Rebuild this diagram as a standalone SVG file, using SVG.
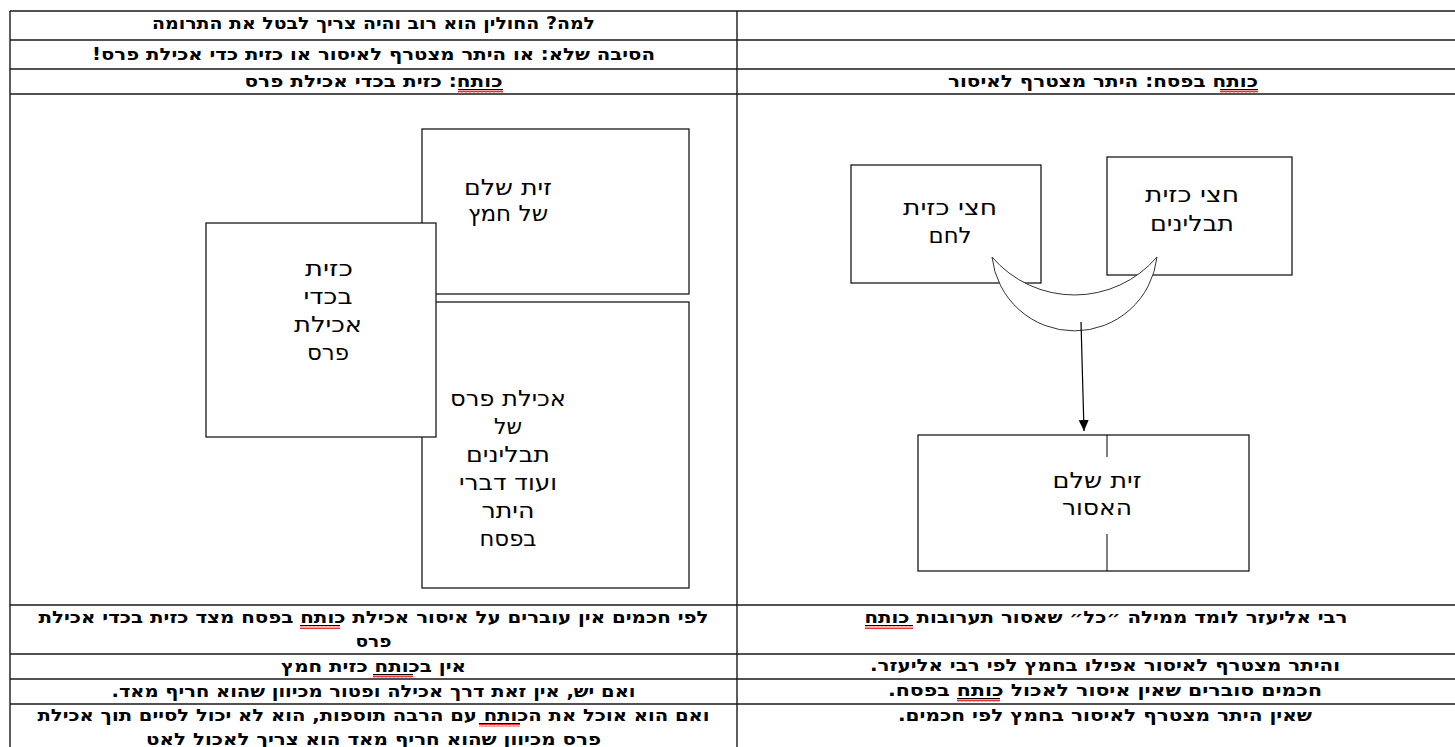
<svg xmlns="http://www.w3.org/2000/svg" width="1455" height="747" viewBox="0 0 1455 747">
<style>
.grid{stroke:#1a1a1a;stroke-width:1.4;fill:none}
.box{fill:#fff;stroke:#1a1a1a;stroke-width:1.3}
.hd{font-family:"DejaVu Sans","Liberation Sans",sans-serif;font-size:17px;font-weight:bold;fill:#000;text-anchor:middle}
.bx{font-family:"DejaVu Sans","Liberation Sans",sans-serif;font-size:22px;fill:#000;text-anchor:middle}
.ul{stroke:#000;stroke-width:1;fill:none}
</style>
<defs>
<pattern id="sq" x="0" y="0" width="4" height="3" patternUnits="userSpaceOnUse">
<path d="M0,2.5 L1,0.5 L2,2.5 L3,0.5 L4,2.5" fill="none" stroke="#e01b1b" stroke-width="0.9"/>
</pattern>
<marker id="ah" markerWidth="12" markerHeight="12" refX="11" refY="5" orient="auto" markerUnits="userSpaceOnUse">
<path d="M0,0 L11,5 L0,10 Z" fill="#000"/>
</marker>
</defs>
<rect width="1455" height="747" fill="#fff"/>
<g id="table">
<path class="grid" d="M10,11H1455M10,40H1455M10,69H1455M10,94H1455M10,605H1455M10,654H1455M10,679H1455M10,704H1455M10,11V747M737,11V747"/>
</g>
<g id="header-texts">
<text class="hd" x="373.5" y="29" direction="rtl" textLength="443" lengthAdjust="spacingAndGlyphs">למה? החולין הוא רוב והיה צריך לבטל את התרומה</text>
<text class="hd" x="373.5" y="60" direction="rtl" textLength="563" lengthAdjust="spacingAndGlyphs">הסיבה שלא: או היתר מצטרף לאיסור או כזית כדי אכילת פרס!</text>
<text class="hd" x="373.5" y="87" direction="rtl" textLength="258" lengthAdjust="spacingAndGlyphs">כותח: כזית בכדי אכילת פרס</text>
<text class="hd" x="1103" y="87" direction="rtl" textLength="310" lengthAdjust="spacingAndGlyphs">כותח בפסח: היתר מצטרף לאיסור</text>
</g>
<g id="left-diagram">
<g id="n-whole-chametz">
<rect class="box" x="422" y="129" width="267" height="165"/>
<text class="bx" x="508" y="195" textLength="88" lengthAdjust="spacingAndGlyphs">זית שלם</text>
<text class="bx" x="508" y="221" textLength="80" lengthAdjust="spacingAndGlyphs">של חמץ</text>
</g>
<g id="n-heter">
<rect class="box" x="422" y="302" width="267" height="286"/>
<text class="bx" x="508" y="406" textLength="116" lengthAdjust="spacingAndGlyphs">אכילת פרס</text>
<text class="bx" x="508" y="434" textLength="28" lengthAdjust="spacingAndGlyphs">של</text>
<text class="bx" x="508" y="462" textLength="84" lengthAdjust="spacingAndGlyphs">תבלינים</text>
<text class="bx" x="508" y="490" textLength="98" lengthAdjust="spacingAndGlyphs">ועוד דברי</text>
<text class="bx" x="508" y="518" textLength="53" lengthAdjust="spacingAndGlyphs">היתר</text>
<text class="bx" x="508" y="546" textLength="57" lengthAdjust="spacingAndGlyphs">בפסח</text>
</g>
<g id="n-kezayit">
<rect class="box" x="206" y="223" width="230" height="214"/>
<text class="bx" x="329" y="276" textLength="48" lengthAdjust="spacingAndGlyphs">כזית</text>
<text class="bx" x="328" y="304" textLength="49" lengthAdjust="spacingAndGlyphs">בכדי</text>
<text class="bx" x="328" y="332" textLength="68" lengthAdjust="spacingAndGlyphs">אכילת</text>
<text class="bx" x="328" y="360" textLength="42" lengthAdjust="spacingAndGlyphs">פרס</text>
</g>
</g>
<g id="right-diagram">
<g id="n-bread">
<rect class="box" x="851" y="165" width="190" height="118"/>
<text class="bx" x="950" y="215" textLength="94" lengthAdjust="spacingAndGlyphs">חצי כזית</text>
<text class="bx" x="950" y="243" textLength="43" lengthAdjust="spacingAndGlyphs">לחם</text>
</g>
<g id="n-spices">
<rect class="box" x="1107" y="157" width="185" height="118"/>
<text class="bx" x="1192" y="202" textLength="94" lengthAdjust="spacingAndGlyphs">חצי כזית</text>
<text class="bx" x="1192" y="231" textLength="84" lengthAdjust="spacingAndGlyphs">תבלינים</text>
</g>
<g id="n-moon">
<path d="M992,257 A83,83 0 0 0 1157,257 A108.6,108.6 0 0 1 992,257 Z" fill="#fff" stroke="#333" stroke-width="1"/>
</g>
<g id="n-forbidden">
<rect class="box" x="918" y="435" width="331" height="136"/>
<path class="ul" d="M1107,435V457M1107,534V571"/>
<text class="bx" x="1097" y="488" textLength="89" lengthAdjust="spacingAndGlyphs">זית שלם</text>
<text class="bx" x="1097" y="515" textLength="70" lengthAdjust="spacingAndGlyphs">האסור</text>
</g>
</g>
<g id="connectors">
<path d="M1081,322 L1084,431" stroke="#000" stroke-width="1.2" fill="none" marker-end="url(#ah)"/>
</g>
<g id="bottom-texts">
<text class="hd" x="373.5" y="623" direction="rtl" textLength="670" lengthAdjust="spacingAndGlyphs">לפי חכמים אין עוברים על איסור אכילת כותח בפסח מצד כזית בכדי אכילת</text>
<text class="hd" x="373.5" y="647" direction="rtl" textLength="36" lengthAdjust="spacingAndGlyphs">פרס</text>
<text class="hd" x="373.5" y="672" direction="rtl" textLength="185" lengthAdjust="spacingAndGlyphs">אין בכותח כזית חמץ</text>
<text class="hd" x="373.5" y="697" direction="rtl" textLength="524" lengthAdjust="spacingAndGlyphs">ואם יש, אין זאת דרך אכילה ופטור מכיוון שהוא חריף מאד.</text>
<text class="hd" x="373.5" y="721" direction="rtl" textLength="672" lengthAdjust="spacingAndGlyphs">ואם הוא אוכל את הכותח עם הרבה תוספות, הוא לא יכול לסיים תוך אכילת</text>
<text class="hd" x="373.5" y="745" direction="rtl" textLength="455" lengthAdjust="spacingAndGlyphs">פרס מכיוון שהוא חריף מאד הוא צריך לאכול לאט</text>
<text class="hd" x="1106" y="623" direction="rtl" textLength="483" lengthAdjust="spacingAndGlyphs">רבי אליעזר לומד ממילה ״כל״ שאסור תערובות כותח</text>
<text class="hd" x="1105" y="671" direction="rtl" textLength="470" lengthAdjust="spacingAndGlyphs">והיתר מצטרף לאיסור אפילו בחמץ לפי רבי אליעזר.</text>
<text class="hd" x="1105" y="696" direction="rtl" textLength="434" lengthAdjust="spacingAndGlyphs">חכמים סוברים שאין איסור לאכול כותח בפסח.</text>
<text class="hd" x="1105" y="721" direction="rtl" textLength="414" lengthAdjust="spacingAndGlyphs">שאין היתר מצטרף לאיסור בחמץ לפי חכמים.</text>
</g>
<g id="spell-marks">
<path class="ul" d="M458,89.5H503M1220,89.5H1258M300,625.5H340M373,674.5H413M479,723.5H520M865,625.5H913M957,698.5H1000"/>
<rect x="458" y="90" width="45" height="3" fill="url(#sq)"/>
<rect x="1220" y="90" width="38" height="3" fill="url(#sq)"/>
<rect x="300" y="626" width="40" height="3" fill="url(#sq)"/>
<rect x="373" y="675" width="40" height="3" fill="url(#sq)"/>
<rect x="479" y="724" width="41" height="3" fill="url(#sq)"/>
<rect x="865" y="626" width="48" height="3" fill="url(#sq)"/>
<rect x="957" y="699" width="43" height="3" fill="url(#sq)"/>
</g>
</svg>
